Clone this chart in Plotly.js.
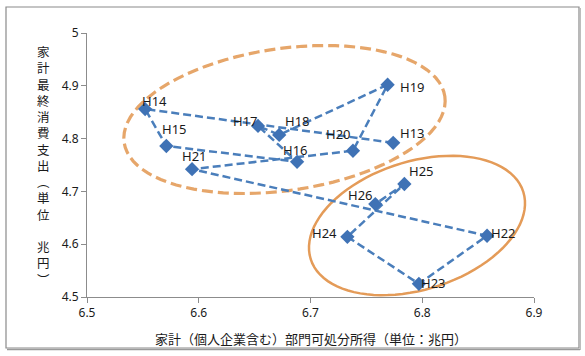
<!DOCTYPE html>
<html>
<head>
<meta charset="utf-8">
<script src="https://cdn.plot.ly/plotly-3.0.1.min.js"></script>
<style>html,body{margin:0;padding:0;background:#fff;}#chart{width:585px;height:356px;}</style>
</head>
<body>
<div id="chart"></div>
<script>
// ---- data ----
const labels = ['H13','H14','H15','H16','H17','H18','H19','H20','H21','H22','H23','H24','H25','H26'];
const income = [6.774, 6.552, 6.571, 6.688, 6.653, 6.672, 6.769, 6.738, 6.594, 6.858, 6.797, 6.733, 6.784, 6.758];
const consumption = [4.792, 4.856, 4.786, 4.756, 4.824, 4.807, 4.902, 4.777, 4.742, 4.616, 4.525, 4.614, 4.714, 4.676];
const xTitle = '家計（個人企業含む）部門可処分所得（単位：兆円）';
const yTitle = '家<br>計<br>最<br>終<br>消<br>費<br>支<br>出<br>︵<br>単<br>位<br> <br>兆<br>円<br>︶';

// ---- label offsets (pixels, layout only) ----
const labelDx = [19.5, 9, 8, -1.5, -12, 18, 24.5, -14.5, 2, 16, 15, -22.5, 17.5, -14.5];
const labelDy = [-10, -8, -17, -12, -5, -14, 2, -17, -13, -3, -1, -4, -13, -9];

// ---- layout geometry (pixels) ----
const W = 585, H = 356, L = 87, R = 534, T = 33, B = 297;
const xr = [6.5, 6.9], yr = [4.5, 5.0];
function toData(px, py) {
  return [xr[0] + (px - L) / (R - L) * (xr[1] - xr[0]), yr[1] - (py - T) / (B - T) * (yr[1] - yr[0])];
}
function toPaperX(px) { return (px - L) / (R - L); }
function toPaperY(py) { return (B - py) / (B - T); }
function ellipsePath(cx, cy, a, b, deg) {
  const th = deg * Math.PI / 180, n = 90;
  let s = '';
  for (let i = 0; i <= n; i++) {
    const t = 2 * Math.PI * i / n;
    const px = cx + a * Math.cos(t) * Math.cos(th) + b * Math.sin(t) * Math.sin(th);
    const py = cy - a * Math.cos(t) * Math.sin(th) + b * Math.sin(t) * Math.cos(th);
    const d = toData(px, py);
    s += (i === 0 ? 'M ' : ' L ') + d[0].toFixed(5) + ',' + d[1].toFixed(5);
  }
  return s + ' Z';
}

const FONT = 'Noto Sans, Noto Sans CJK JP, sans-serif';
const CJK = 'Noto Sans CJK JP, sans-serif';
const VT = 'DejaVu Sans, Noto Sans CJK JP, sans-serif';

const trace = {
  type: 'scatter', mode: 'lines+markers',
  x: income, y: consumption,
  line: {color: '#4a7ebb', width: 2.5, dash: '8px,4px'},
  marker: {symbol: 'diamond', size: 11, color: '#3f72b5'},
  cliponaxis: false, hoverinfo: 'skip'
};

const annotations = labels.map((t, i) => ({
  xref: 'x', yref: 'y', x: income[i], y: consumption[i],
  xshift: labelDx[i], yshift: -labelDy[i], xanchor: 'center', yanchor: 'middle',
  showarrow: false, text: t, font: {family: FONT, size: 13, color: '#1a1a1a'}
}));
annotations.push({
  xref: 'paper', yref: 'paper', x: toPaperX(43), y: toPaperY(166), xanchor: 'center', yanchor: 'middle',
  showarrow: false, text: yTitle, font: {family: VT, size: 12.5, color: '#1a1a1a'}
});
annotations.push({
  xref: 'paper', yref: 'paper', x: 0.5, y: toPaperY(338), xanchor: 'center', yanchor: 'middle',
  showarrow: false, text: xTitle, font: {family: CJK, size: 13, color: '#1a1a1a'}
});

const shapes = [
  {type: 'path', xref: 'x', yref: 'y', path: ellipsePath(284.5, 119.5, 162, 71, 8.2),
   line: {color: '#e6a66a', width: 3.2, dash: '11px,5px'}, layer: 'below'},
  {type: 'path', xref: 'x', yref: 'y', path: ellipsePath(417, 225.5, 111.5, 64, 17.6),
   line: {color: '#e49b58', width: 2.5}, layer: 'below'},
  {type: 'rect', xref: 'paper', yref: 'paper', x0: toPaperX(6), x1: toPaperX(579), y0: toPaperY(7), y1: toPaperY(348),
   line: {color: '#8a8a8a', width: 1.2}},
  {type: 'line', xref: 'paper', yref: 'paper', x0: toPaperX(7), x1: toPaperX(580), y0: toPaperY(349.5), y1: toPaperY(349.5),
   line: {color: '#9a9a9a', width: 1.5}},
  {type: 'line', xref: 'paper', yref: 'paper', x0: toPaperX(580.5), x1: toPaperX(580.5), y0: toPaperY(8), y1: toPaperY(350),
   line: {color: '#bdbdbd', width: 1}}
];

const axisCommon = {
  showgrid: false, zeroline: false, showline: true, linecolor: '#8c8c8c', linewidth: 1,
  ticks: 'outside', ticklen: 5, tickcolor: '#8c8c8c', tickwidth: 1,
  tickfont: {family: FONT, size: 12, color: '#1a1a1a'}, fixedrange: true
};

const layout = {
  width: W, height: H,
  margin: {l: L, r: W - R, t: T, b: H - B, pad: 0},
  paper_bgcolor: '#ffffff', plot_bgcolor: '#ffffff',
  showlegend: false,
  xaxis: Object.assign({}, axisCommon, {range: xr, dtick: 0.1, tick0: 6.5}),
  yaxis: Object.assign({}, axisCommon, {range: yr, dtick: 0.1, tick0: 4.5}),
  shapes: shapes, annotations: annotations
};

Plotly.newPlot('chart', [trace], layout, {staticPlot: true, displayModeBar: false});
</script>
</body>
</html>
